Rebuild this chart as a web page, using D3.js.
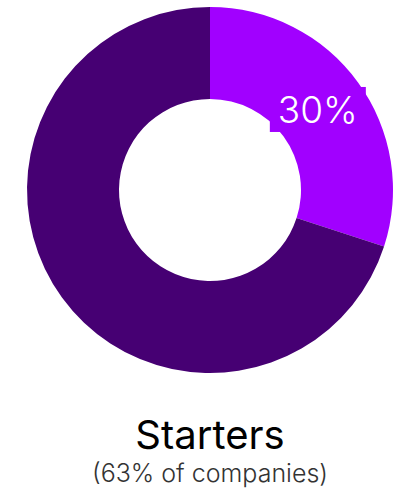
<!DOCTYPE html>
<html>
<head>
<meta charset="utf-8">
<script src="https://cdn.jsdelivr.net/npm/d3@7"></script>
<style>
  body { margin: 0; background: #fff; }
  text { font-family: Inter, Roboto, "Noto Sans", sans-serif; }
</style>
</head>
<body>
<div id="chart"></div>
<script>
// data
var categories = ["Starters", "Others"];
var values = [30, 70];
var colors = ["#a100ff", "#460073"];
var title = "Starters";
var subtitle = "(63% of companies)";

var width = 395;
var height = 492;
var cx = 210, cy = 190;
var outerR = 183, innerR = 91;

var svg = d3.select("#chart")
    .append("svg")
    .attr("width", width)
    .attr("height", height);

var pie = d3.pie().sort(null).value(function(d) { return d; });
var arc = d3.arc().innerRadius(innerR).outerRadius(outerR);

var g = svg.append("g").attr("transform", `translate(${cx}, ${cy})`);

g.selectAll("path")
    .data(pie(values))
    .enter()
    .append("path")
    .attr("d", arc)
    .attr("fill", function(d, i) { return colors[i]; });

// label for first slice, with a box behind it
var first = pie(values)[0];
var c = arc.centroid(first);
var lx = c[0] - 3, ly = c[1];

g.append("rect")
    .attr("x", lx - 48)
    .attr("y", ly - 22.5)
    .attr("width", 96)
    .attr("height", 45)
    .attr("fill", colors[0]);

g.append("text")
    .attr("x", lx)
    .attr("y", ly + 14)
    .attr("text-anchor", "middle")
    .attr("fill", "#fff")
    .attr("font-size", 37)
    .attr("font-weight", 300)
    .text(values[0] + "%");

// titles
svg.append("text")
    .attr("x", cx)
    .attr("y", 449)
    .attr("text-anchor", "middle")
    .attr("fill", "#000")
    .attr("font-size", 40)
    .text(title);

svg.append("text")
    .attr("x", cx)
    .attr("y", 482)
    .attr("text-anchor", "middle")
    .attr("fill", "#333")
    .attr("font-size", 25)
    .attr("font-weight", 300)
    .text(subtitle);
</script>
</body>
</html>
